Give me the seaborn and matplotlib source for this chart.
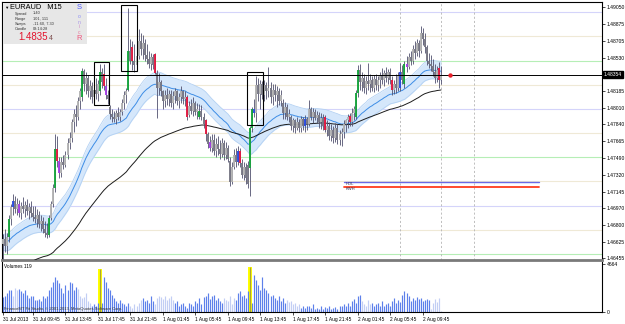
import numpy as np
import pandas as pd
import matplotlib
matplotlib.use("Agg")
import matplotlib.pyplot as plt
from matplotlib.patches import Rectangle
import seaborn as sns

# ---------------- data (EURAUD M15) ----------------
start_time = "2013-07-31 06:00"

open_p = [1.4660,1.4665,1.4658,1.4668,1.4686,1.4698,1.4705,1.4696,1.4702,1.4692,
          1.4700,1.4696,1.4701,1.4694,1.4699,1.4692,1.4688,1.4686,1.4690,1.4681,
          1.4684,1.4676,1.4672,1.4670,1.4687,1.4702,1.4718,1.4758,1.4746,1.4734,
          1.4745,1.4742,1.4752,1.4765,1.4770,1.4786,1.4795,1.4792,1.4808,1.4812,
          1.4839,1.4826,1.4832,1.4818,1.4824,1.4812,1.4820,1.4815,1.4818,1.4838,
          1.4836,1.4824,1.4814,1.4802,1.4795,1.4792,1.4790,1.4796,1.4792,1.4797,
          1.4806,1.4814,1.4820,1.4860,1.4864,1.4850,1.4845,1.4855,1.4870,1.4862,
          1.4868,1.4856,1.4852,1.4846,1.4854,1.4857,1.4837,1.4822,1.4828,1.4818,
          1.4808,1.4814,1.4810,1.4815,1.4806,1.4813,1.4818,1.4808,1.4812,1.4818,
          1.4810,1.4812,1.4794,1.4803,1.4798,1.4806,1.4797,1.4792,1.4798,1.4792,
          1.4788,1.4774,1.4766,1.4760,1.4768,1.4756,1.4764,1.4758,1.4753,1.4765,
          1.4752,1.4760,1.4746,1.4724,1.4740,1.4752,1.4745,1.4756,1.4744,1.4732,
          1.4740,1.4742,1.4739,1.4780,1.4800,1.4796,1.4825,1.4815,1.4826,1.4814,
          1.4825,1.4818,1.4822,1.4812,1.4820,1.4814,1.4818,1.4808,1.4806,1.4796,
          1.4802,1.4792,1.4792,1.4782,1.4788,1.4780,1.4786,1.4780,1.4789,1.4782,
          1.4790,1.4784,1.4800,1.4792,1.4797,1.4791,1.4794,1.4786,1.4791,1.4792,
          1.4778,1.4782,1.4772,1.4778,1.4770,1.4780,1.4768,1.4774,1.4776,1.4784,
          1.4788,1.4793,1.4786,1.4796,1.4792,1.4816,1.4840,1.4828,1.4832,1.4822,
          1.4829,1.4826,1.4830,1.4822,1.4831,1.4825,1.4830,1.4834,1.4830,1.4837,
          1.4832,1.4838,1.4830,1.4819,1.4826,1.4822,1.4822,1.4838,1.4826,1.4846,
          1.4843,1.4854,1.4849,1.4862,1.4858,1.4868,1.4860,1.4878,1.4872,1.4864,
          1.4850,1.4846,1.4844,1.4838,1.4832,1.4842,1.4830]

high_p = [1.4671,1.4676,1.4672,1.4690,1.4702,1.4712,1.4710,1.4708,1.4706,1.4704,
          1.4709,1.4705,1.4707,1.4703,1.4705,1.4700,1.4700,1.4696,1.4694,1.4690,
          1.4688,1.4684,1.4682,1.4690,1.4705,1.4722,1.4774,1.4772,1.4750,1.4750,
          1.4752,1.4756,1.4770,1.4776,1.4790,1.4800,1.4804,1.4812,1.4822,1.4842,
          1.4841,1.4838,1.4835,1.4830,1.4828,1.4826,1.4832,1.4830,1.4846,1.4842,
          1.4846,1.4832,1.4820,1.4804,1.4800,1.4798,1.4799,1.4802,1.4800,1.4810,
          1.4818,1.4822,1.4904,1.4872,1.4870,1.4867,1.4860,1.4883,1.4878,1.4876,
          1.4872,1.4867,1.4860,1.4858,1.4857,1.4858,1.4840,1.4837,1.4830,1.4820,
          1.4819,1.4822,1.4820,1.4819,1.4818,1.4822,1.4820,1.4816,1.4824,1.4820,
          1.4818,1.4814,1.4808,1.4810,1.4812,1.4808,1.4806,1.4805,1.4804,1.4796,
          1.4790,1.4776,1.4772,1.4774,1.4774,1.4770,1.4772,1.4768,1.4770,1.4768,
          1.4766,1.4763,1.4750,1.4745,1.4758,1.4760,1.4762,1.4760,1.4748,1.4745,
          1.4744,1.4746,1.4782,1.4802,1.4810,1.4834,1.4832,1.4830,1.4829,1.4830,
          1.4828,1.4843,1.4828,1.4826,1.4826,1.4824,1.4822,1.4820,1.4810,1.4807,
          1.4805,1.4800,1.4794,1.4791,1.4790,1.4792,1.4790,1.4793,1.4792,1.4794,
          1.4792,1.4809,1.4802,1.4801,1.4800,1.4798,1.4797,1.4796,1.4795,1.4794,
          1.4788,1.4786,1.4784,1.4782,1.4785,1.4784,1.4778,1.4780,1.4788,1.4790,
          1.4795,1.4796,1.4801,1.4803,1.4820,1.4845,1.4846,1.4838,1.4836,1.4834,
          1.4847,1.4836,1.4834,1.4835,1.4836,1.4834,1.4838,1.4842,1.4840,1.4843,
          1.4841,1.4842,1.4834,1.4830,1.4836,1.4838,1.4847,1.4845,1.4850,1.4855,
          1.4858,1.4860,1.4866,1.4870,1.4872,1.4871,1.4886,1.4884,1.4878,1.4866,
          1.4858,1.4856,1.4852,1.4846,1.4844,1.4848,1.4844]

low_p = [1.4645,1.4652,1.4650,1.4662,1.4680,1.4690,1.4692,1.4690,1.4688,1.4686,
         1.4692,1.4688,1.4690,1.4686,1.4688,1.4684,1.4682,1.4678,1.4677,1.4674,
         1.4672,1.4668,1.4666,1.4668,1.4685,1.4698,1.4714,1.4740,1.4728,1.4730,
         1.4738,1.4740,1.4748,1.4758,1.4766,1.4776,1.4782,1.4788,1.4800,1.4808,
         1.4818,1.4815,1.4812,1.4810,1.4806,1.4805,1.4810,1.4808,1.4814,1.4822,
         1.4820,1.4810,1.4805,1.4790,1.4786,1.4786,1.4784,1.4788,1.4787,1.4794,
         1.4800,1.4806,1.4818,1.4846,1.4840,1.4838,1.4840,1.4852,1.4856,1.4852,
         1.4850,1.4846,1.4842,1.4840,1.4841,1.4836,1.4791,1.4814,1.4813,1.4800,
         1.4802,1.4804,1.4803,1.4802,1.4800,1.4806,1.4804,1.4801,1.4806,1.4805,
         1.4803,1.4788,1.4792,1.4795,1.4793,1.4794,1.4790,1.4790,1.4788,1.4780,
         1.4767,1.4760,1.4756,1.4755,1.4752,1.4750,1.4752,1.4748,1.4750,1.4747,
         1.4748,1.4745,1.4720,1.4722,1.4738,1.4740,1.4742,1.4740,1.4728,1.4726,
         1.4722,1.4718,1.4710,1.4776,1.4792,1.4786,1.4808,1.4800,1.4810,1.4808,
         1.4810,1.4812,1.4806,1.4804,1.4808,1.4802,1.4804,1.4803,1.4790,1.4789,
         1.4788,1.4786,1.4778,1.4776,1.4775,1.4778,1.4776,1.4776,1.4778,1.4776,
         1.4778,1.4782,1.4788,1.4785,1.4788,1.4785,1.4780,1.4779,1.4778,1.4776,
         1.4772,1.4768,1.4767,1.4765,1.4766,1.4764,1.4763,1.4762,1.4770,1.4776,
         1.4780,1.4782,1.4782,1.4788,1.4789,1.4812,1.4820,1.4818,1.4816,1.4815,
         1.4820,1.4817,1.4818,1.4817,1.4820,1.4818,1.4822,1.4826,1.4824,1.4828,
         1.4826,1.4826,1.4814,1.4815,1.4816,1.4818,1.4818,1.4826,1.4822,1.4838,
         1.4841,1.4845,1.4846,1.4852,1.4855,1.4854,1.4858,1.4866,1.4858,1.4845,
         1.4842,1.4839,1.4834,1.4827,1.4828,1.4822,1.4826]

close_p = [1.4665,1.4658,1.4668,1.4686,1.4698,1.4705,1.4696,1.4702,1.4692,1.4700,
           1.4696,1.4701,1.4694,1.4699,1.4692,1.4688,1.4686,1.4690,1.4681,1.4684,
           1.4676,1.4672,1.4670,1.4687,1.4702,1.4718,1.4758,1.4746,1.4734,1.4745,
           1.4742,1.4752,1.4765,1.4770,1.4786,1.4795,1.4792,1.4808,1.4818,1.4839,
           1.4826,1.4832,1.4818,1.4824,1.4812,1.4820,1.4815,1.4826,1.4838,1.4828,
           1.4824,1.4814,1.4810,1.4795,1.4792,1.4790,1.4796,1.4792,1.4797,1.4806,
           1.4814,1.4818,1.4860,1.4850,1.4850,1.4845,1.4855,1.4870,1.4862,1.4868,
           1.4856,1.4852,1.4846,1.4854,1.4845,1.4837,1.4822,1.4828,1.4818,1.4808,
           1.4814,1.4810,1.4815,1.4806,1.4813,1.4818,1.4808,1.4812,1.4818,1.4810,
           1.4812,1.4792,1.4803,1.4798,1.4806,1.4797,1.4800,1.4798,1.4792,1.4784,
           1.4774,1.4764,1.4760,1.4768,1.4756,1.4764,1.4758,1.4753,1.4765,1.4752,
           1.4760,1.4748,1.4724,1.4740,1.4752,1.4745,1.4756,1.4744,1.4732,1.4740,
           1.4728,1.4722,1.4780,1.4800,1.4796,1.4825,1.4815,1.4826,1.4814,1.4825,
           1.4818,1.4822,1.4812,1.4820,1.4814,1.4818,1.4808,1.4814,1.4796,1.4802,
           1.4792,1.4795,1.4782,1.4788,1.4780,1.4786,1.4780,1.4789,1.4782,1.4790,
           1.4784,1.4800,1.4792,1.4797,1.4791,1.4794,1.4786,1.4791,1.4782,1.4778,
           1.4782,1.4772,1.4778,1.4770,1.4780,1.4768,1.4774,1.4776,1.4784,1.4788,
           1.4792,1.4786,1.4796,1.4800,1.4816,1.4840,1.4828,1.4832,1.4822,1.4829,
           1.4826,1.4830,1.4822,1.4831,1.4825,1.4830,1.4834,1.4830,1.4837,1.4832,
           1.4838,1.4830,1.4819,1.4826,1.4822,1.4834,1.4838,1.4830,1.4846,1.4843,
           1.4854,1.4849,1.4862,1.4858,1.4868,1.4860,1.4878,1.4872,1.4864,1.4850,
           1.4846,1.4844,1.4838,1.4832,1.4840,1.4830,1.48354]

volume = [1460,1580,1840,2090,2150,1580,2310,2150,2250,2060,
          1840,2150,1680,1360,1520,1580,1200,1200,1270,1050,
          1520,1360,1520,2150,2470,2950,3420,3100,2790,2310,
          1840,2630,2150,2950,2790,2150,2470,2220,1520,1360,
          1460,1840,1050,890,630,730,570,890,4210,890,
          3420,2950,2310,2150,1680,1360,1050,890,1200,890,
          730,570,890,570,410,730,570,890,1200,1360,
          1050,1200,890,1520,1050,730,1360,1580,1460,1270,
          1520,1200,1360,1580,1200,890,1050,570,730,890,
          570,410,890,730,570,1050,890,1360,730,1460,
          1520,1840,1270,1520,1680,1200,1360,1050,890,1360,
          1200,1050,1520,730,1360,1200,1840,2000,1520,1680,
          1360,2000,4370,890,3580,3100,2630,2150,3420,2310,
          2150,1840,1520,1680,1360,1200,1520,1050,1360,890,
          1200,950,1050,730,890,570,730,410,630,410,
          570,630,410,730,250,410,320,570,250,510,
          410,570,320,410,510,320,570,630,730,570,
          890,630,1050,1270,890,1520,1680,1050,730,570,
          1200,730,890,570,730,890,630,1050,570,730,
          890,630,1050,1360,890,1200,950,1680,2000,1840,
          1520,1050,1360,1200,1460,1270,1360,1050,1200,1270,
          1140,250,890,1270,950,1360,119]

light_volume_bars = [5,6,7,37,38,39,40,41,42,43,63,64,65,66,67,68,75,76,77,78,79,
                     80,81,82,83,84,109,110,111,112,113,114,140,141,142,143,144,
                     145,146,177,178,179,180,181,211,212,213,214,215,216]
highlight_volume_bars = [48, 122]

green_bars = [3, 23, 26, 39, 48, 62, 97, 122, 123, 174, 175, 198]
red_bars = [27, 50, 64, 75, 91, 100, 117, 159, 171, 192, 215]
blue_bars = [5, 116, 124, 149, 196]
purple_bars = [8, 28, 51, 102, 199]

# indicator seeds (EMA values just before the first visible bar)
ema89_seed = 1.4622
ema34_seed_close, ema34_seed_high, ema34_seed_low = 1.4662, 1.4670, 1.4654

round_levels = [1.4900, 1.4875, 1.4850, 1.4825, 1.4800, 1.4775, 1.4750,
                1.4725, 1.4700, 1.4675, 1.4650]
round_level_colors = ["#d4d4fa", "#efe9d6", "#b6eeb6", "#efe9d6", "#d4d4fa", "#efe9d6",
                      "#b6eeb6", "#efe9d6", "#d4d4fa", "#efe9d6", "#b6eeb6"]

price_ticks = [1.49050, 1.48875, 1.48705, 1.48530, 1.48185, 1.48010, 1.47840,
               1.47665, 1.47490, 1.47320, 1.47145, 1.46970, 1.46800, 1.46625, 1.46455]
bid_price = 1.48354

tick_times = ["2013-07-31 06:00", "2013-07-31 09:45", "2013-07-31 13:45", "2013-07-31 17:45",
              "2013-07-31 21:45", "2013-08-01 01:45", "2013-08-01 05:45", "2013-08-01 09:45",
              "2013-08-01 13:45", "2013-08-01 17:45", "2013-08-01 21:45", "2013-08-02 01:45",
              "2013-08-02 05:45", "2013-08-02 09:45"]
tick_labels = ["31 Jul 2013", "31 Jul 09:45", "31 Jul 13:45", "31 Jul 17:45", "31 Jul 21:45",
               "1 Aug 01:45", "1 Aug 05:45", "1 Aug 09:45", "1 Aug 13:45", "1 Aug 17:45",
               "1 Aug 21:45", "2 Aug 01:45", "2 Aug 05:45", "2 Aug 09:45"]

event_times = ["2013-08-02 07:00", "2013-08-02 12:00", "2013-08-02 16:00"]

# rectangles drawn on the chart: (start bar, end bar, low price, high price)
box_start = [45.0, 58.4, 120.4]
box_end = [52.4, 66.2, 128.3]
box_low = [1.4804, 1.4839, 1.4783]
box_high = [1.4848, 1.4907, 1.4838]

hdl_price, kwh_price = 1.4724, 1.4719
hdl_start, hdl_end = 168.2, 264.3
bid_marker_bar = 220.5

# ---------------- figure ----------------
sns.set_theme(style="white")
plt.rcParams['font.family'] = ['Liberation Sans', 'DejaVu Sans']

W, H = 625, 324
fig = plt.figure(figsize=(W / 100, H / 100), dpi=100)
fig.patch.set_facecolor("white")


def fx(x):
    return x / W


def fy(y):
    return 1 - y / H


ax = fig.add_axes([fx(2), fy(260), fx(602) - fx(2), fy(2) - fy(260)])
axv = fig.add_axes([fx(2), fy(312), fx(602) - fx(2), fy(262) - fy(312)])

n = len(close_p)
idx = np.arange(n)
times = pd.date_range(start_time, periods=n + 40, freq="15min")
o = np.array(open_p); h = np.array(high_p); l = np.array(low_p); c = np.array(close_p)


def ema(values, seed, span):
    s = pd.Series([seed] + list(values))
    return s.ewm(span=span, adjust=False).mean().to_numpy()[1:]


ema89 = ema(c, ema89_seed, 89)
ema34 = ema(c, ema34_seed_close, 34)
ema34h = ema(h, ema34_seed_high, 34)
ema34l = ema(l, ema34_seed_low, 34)

xmin, xmax = -0.27, 295.3
for a in (ax, axv):
    a.set_xlim(xmin, xmax)
    a.set_facecolor("white")
ax.set_ylim(1.46437, 1.49105)

# round-number levels
for lv, col in zip(round_levels, round_level_colors):
    ax.axhline(lv, color=col, lw=0.8, zorder=1)

# event separators
ev_pos = times.get_indexer(pd.to_datetime(event_times))
for p in ev_pos:
    ax.axvline(p, color="#b4b4b4", lw=0.6, ls=(0, (2.5, 2.5)), zorder=1)

# dragon band + EMAs
ax.fill_between(idx, ema34l, ema34h, color="#d5e7fb", lw=0, zorder=2)
sns.lineplot(x=idx, y=ema34h, ax=ax, color="#b3d1f3", lw=0.6, zorder=2)
sns.lineplot(x=idx, y=ema34l, ax=ax, color="#b3d1f3", lw=0.6, zorder=2)
sns.lineplot(x=idx, y=ema34, ax=ax, color="#3d8de6", lw=0.7, zorder=3)
sns.lineplot(x=idx, y=ema89, ax=ax, color="#1c1c1c", lw=0.7, zorder=3)

# candles
body_cols = np.where(c >= o, "#b3b3b3", "#777784").astype(object)
for lst, col in ((green_bars, "#16a53c"), (red_bars, "#e3173f"),
                 (blue_bars, "#2a4be0"), (purple_bars, "#a43ee6")):
    for i in lst:
        body_cols[i] = col
ax.vlines(idx, l, h, colors="#50506e", lw=0.6, zorder=4)
ax.vlines(idx, np.minimum(o, c), np.maximum(o, c), colors=list(body_cols), lw=1.35, zorder=4)

# drawn rectangles
for x0, x1, p0, p1 in zip(box_start, box_end, box_low, box_high):
    ax.add_patch(Rectangle((x0, p0), x1 - x0, p1 - p0, fill=False, ec="black", lw=0.8, zorder=5))

# HDL / KWH lines
ax.plot([hdl_start, hdl_end], [hdl_price, hdl_price], color="#6a6ae6", lw=1.0, zorder=4)
ax.plot([hdl_start, hdl_end], [kwh_price, kwh_price], color="#ff3c1e", lw=1.3, zorder=4)
ax.text(hdl_start + 1, hdl_price - 0.00012, "HDL", fontsize=3, color="#303050",
        va="center", ha="left", zorder=5)
ax.text(hdl_start + 1, kwh_price - 0.00014, "KWH", fontsize=3, color="#303050",
        va="center", ha="left", zorder=5)

# bid line and marker
ax.axhline(bid_price, color="black", lw=0.7, zorder=4)
ax.scatter([bid_marker_bar], [bid_price], s=10, color="#e8202a", zorder=6, linewidths=0)

# price axis
ax.yaxis.tick_right()
ax.set_yticks(price_ticks)
ax.set_yticklabels([f"{v:.5f}" for v in price_ticks])
ax.tick_params(axis="y", which="both", right=True, left=False, labelsize=3.6, length=2.2,
               width=0.5, pad=1, colors="black")
ax.set_xticks([])
ax.text(1.003, bid_price, f"{bid_price:.5f}", transform=ax.get_yaxis_transform(),
        ha="left", va="center", fontsize=3.6, color="white", zorder=7, clip_on=False,
        bbox=dict(boxstyle="square,pad=0.2", fc="black", ec="black"))
for side in ("top", "left", "right"):
    ax.spines[side].set_color("black")
    ax.spines[side].set_linewidth(0.8)
ax.spines["bottom"].set_color("#7a7a7a")
ax.spines["bottom"].set_linewidth(2.0)
ax.set_xlabel(""); ax.set_ylabel("")

# volume panel
vcols = ["#c2cef4" if i in light_volume_bars else "#5d80ea" for i in idx]
for i in highlight_volume_bars:
    axv.bar(i, volume[i], width=2.0, color="#ffff00", linewidth=0, zorder=1)
    vcols[i] = "#a9a43a"
vl = axv.vlines(idx, 0, volume, colors=vcols, lw=0.85, zorder=2)
vl.set_snap(True)
axv.set_ylim(0, 4860)
axv.yaxis.tick_right()
axv.set_yticks([0, 4664])
axv.set_yticklabels(["0", "4664"])
axv.tick_params(axis="y", right=True, left=False, labelsize=3.6, length=2.2, width=0.5,
                pad=1, colors="black")
tick_pos = times.get_indexer(pd.to_datetime(tick_times))
axv.set_xticks(tick_pos)
axv.set_xticklabels(tick_labels)
axv.tick_params(axis="x", bottom=True, labelsize=3.5, length=2.2, width=0.5, pad=1.5,
                colors="black")
for lab in axv.get_xticklabels():
    lab.set_ha("left")
axv.spines["top"].set_visible(False)
for side in ("left", "right", "bottom"):
    axv.spines[side].set_color("black")
    axv.spines[side].set_linewidth(0.8)
axv.set_xlabel(""); axv.set_ylabel("")

fig.text(fx(4), fy(267), f"Volumes {volume[-1]}", fontsize=3.4, color="black",
         ha="left", va="center", zorder=8)
fig.text(fx(4), fy(309), "FinanceMT Fit Studio, \u00a9 2001-2013, MetaQuotes Software Corp.",
         fontsize=3.0, color="#333333", ha="left", va="center", zorder=8)

# info panel
fig.add_artist(Rectangle((fx(3), fy(44)), fx(87) - fx(3), fy(3) - fy(44),
                         transform=fig.transFigure, fc="#e7e7e7", ec="none", zorder=10))
fig.text(fx(4.5), fy(7.5), "\u25bc", fontsize=3.2, color="black", ha="left", va="center", zorder=11)
fig.text(fx(10), fy(7.5), "EURAUD   M15", fontsize=5.3, color="black", ha="left", va="center", zorder=11)
info_names = ["Spread", "Range", "Swaps", "Candle"]
info_vals = ["1.40", "101, 111", "-11.60, 7.30", "08:14:28"]
for k, (nm, vl_txt) in enumerate(zip(info_names, info_vals)):
    yy = 13.5 + 5.2 * k
    fig.text(fx(15), fy(yy), nm, fontsize=2.8, color="#333333", ha="left", va="center", zorder=11)
    fig.text(fx(33), fy(yy), vl_txt, fontsize=2.8, color="#333333", ha="left", va="center", zorder=11)
fig.text(fx(18), fy(37.5), f"{bid_price:.5f}"[:-1], fontsize=7, color="#e3112b",
         ha="left", va="center", zorder=11)
fig.text(fx(48.5), fy(38.2), f"{bid_price:.5f}"[-1], fontsize=5, color="#7a4a4a",
         ha="left", va="center", zorder=11)
sonic = [("S", 7.5, "#4d58ff", 5.5), ("o", 16.5, "#8a8cf5", 3.6), ("n", 22, "#a995e8", 3.6),
         ("i", 27, "#cf86c6", 3.6), ("c", 32.5, "#e77aa0", 3.6), ("R", 38.5, "#f0557e", 5.5)]
for ch, yy, col, fs in sonic:
    fig.text(fx(79.5), fy(yy), ch, fontsize=fs, color=col, ha="center", va="center", zorder=11)

fig.savefig("out.png", dpi=100, facecolor="white")
